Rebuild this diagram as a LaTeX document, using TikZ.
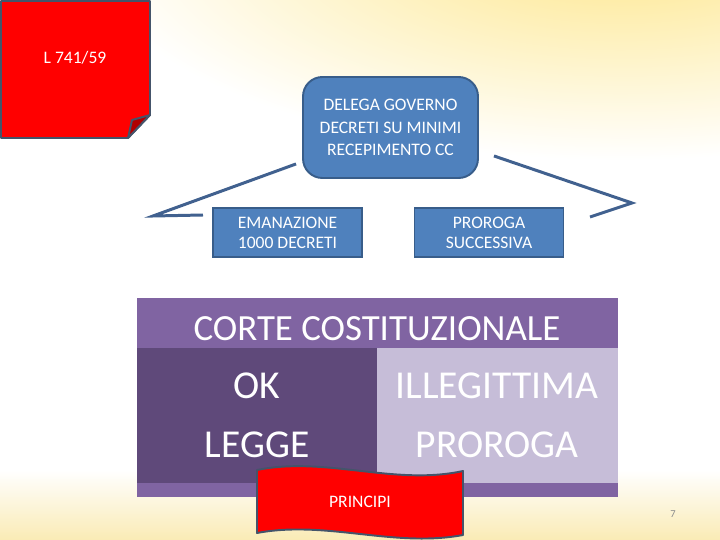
\documentclass[tikz,border=0pt]{standalone}
\usepackage{fontspec}
\setmainfont{Carlito}
\usepackage{tikz}
\usetikzlibrary{calc}
\definecolor{slideblue}{HTML}{4F81BD}
\definecolor{slideblueline}{HTML}{385D8A}
\definecolor{wireblue}{HTML}{41618F}
\definecolor{noteborder}{HTML}{44546A}
\definecolor{notefold}{HTML}{B00000}
\definecolor{cortehead}{HTML}{8064A2}
\definecolor{cortedark}{HTML}{5F497A}
\definecolor{cortelight}{HTML}{C6BDD8}
\definecolor{glowyellow}{HTML}{FDE68A}
\definecolor{sandyellow}{HTML}{FAEBB5}
\tikzset{
  govbox/.style={draw=slideblueline,line width=1.1pt,fill=slideblue,rounded corners=11pt,align=center,
    minimum width=3.5cm,minimum height=2.02cm,inner sep=0pt,text=white,font=\fontsize{10}{12.8}\selectfont},
  stepbox/.style={draw=slideblueline,line width=1.1pt,fill=slideblue,align=center,
    minimum width=2.98cm,minimum height=0.98cm,inner sep=0pt,text=white,font=\fontsize{10}{11.4}\selectfont},
  wireline/.style={draw=wireblue,line width=1.7pt},
  redshape/.style={fill=red,draw=noteborder,line width=1.1pt,line join=round},
  whitelabel/.style={text=white,font=\fontsize{10}{12}\selectfont,inner sep=0pt},
  headlabel/.style={text=white,font=\fontsize{21}{24}\selectfont,inner sep=0pt},
  celllabel/.style={text=white,font=\fontsize{22.5}{26}\selectfont,inner sep=0pt}
}

\begin{document}
\begin{tikzpicture}[x=0.02cm,y=-0.02cm]
  \useasboundingbox (0,0) rectangle (720,540);
  \fill[white] (0,0) rectangle (720,540);
  \begin{scope}
    \clip (0,0) rectangle (720,540);
    \shade[inner color=glowyellow,outer color=white] (620,-60) ellipse (540 and 220);
    \shade[top color=white,bottom color=sandyellow] (0,470) rectangle (720,540);
  \end{scope}

  \filldraw[redshape] (1,1) -- (150,1) -- (150,115) -- (128,138) -- (1,138) -- cycle;
  \filldraw[redshape,fill=notefold] (128,138) -- (132,120) -- (150,115) -- cycle;
  \node[whitelabel] (lawnote) at (75,58) {L 741/59};

  \node[govbox] (gov) at (390.5,127.5) {DELEGA GOVERNO\\DECRETI SU MINIMI\\RECEPIMENTO CC};
  \node[stepbox] (emanazione) at (287.5,232.5) {EMANAZIONE\\1000 DECRETI};
  \node[stepbox] (proroga) at (489,232.5) {PROROGA\\SUCCESSIVA};

  \coordinate (leftbend) at (153,216);
  \coordinate (leftend) at (203,215);
  \coordinate (rightbend) at (632,203);
  \coordinate (rightend) at (590,217);
  \draw[wireline] ($(gov.south west)+(-6,-15)$) -- (leftbend) -- (leftend);
  \draw[wireline] ($(gov.south east)+(15,-23)$) -- (rightbend) -- (rightend);

  \fill[cortehead] (137,298) rectangle (618,348);
  \fill[cortedark] (137,348) rectangle (377,483);
  \fill[cortelight] (377,348) rectangle (618,483);
  \fill[cortehead] (137,483) rectangle (618,497);
  \node[headlabel] (corte) at (377,329) {CORTE COSTITUZIONALE};
  \node[celllabel] (ok) at (257,386) {OK};
  \node[celllabel] (legge) at (257,445) {LEGGE};
  \node[celllabel] (illegittima) at (497,386) {ILLEGITTIMA};
  \node[celllabel] (prorogacell) at (497,445) {PROROGA};

  \filldraw[redshape] (257,470) .. controls (326,456) and (394,486) .. (463,471)
    -- (463,535) .. controls (394,548) and (326,520) .. (257,533) -- cycle;
  \node[whitelabel] (principi) at (360,502) {PRINCIPI};
  \node[text=black!45,font=\fontsize{6}{7}\selectfont,inner sep=0pt] (pagenum) at (673,514) {7};
\end{tikzpicture}
\end{document}
